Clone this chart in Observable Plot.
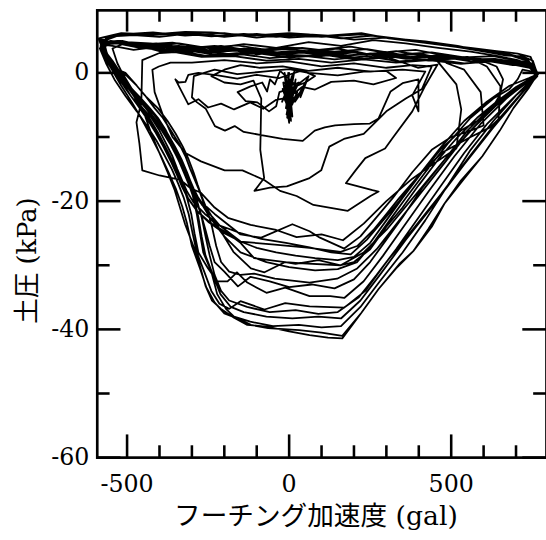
<!DOCTYPE html>
<html>
<head>
<meta charset="utf-8">
<script src="https://cdn.jsdelivr.net/npm/d3@7"></script>
<script src="https://cdn.jsdelivr.net/npm/@observablehq/plot@0.6"></script>
<style>
html, body { margin: 0; padding: 0; overflow: hidden; background: white; }
svg { display: block; }
</style>
</head>
<body>
<div id="chart"></div>
<script>
// axis texts
const xTitle = "フーチング加速度 (gal)";
const yTitle = "土圧 (kPa)";
const xTickLabels = [-500, 0, 500];
const yTickLabels = [0, -20, -40, -60];
const xMajorTicks = [-500, 0, 500];
const xMinorTicks = [-400, -300, -200, -100, 100, 200, 300, 400, 600, 700];
const yMajorTicks = [0, -20, -40, -60];
const yMinorTicks = [-10, -30, -50];

// hysteresis record: [acceleration (gal), earth pressure (kPa)], cycle by cycle
const cycle01 = [[0,0],[-5,-3],[3,-6],[-8,-1],[6,-7.5],[-12,-2],[2,-5],[-3,0],[10,-6.8],[-15,-4],[5,-1],[-6,-7],[12,-2.5],[-18,-1.5],[0,-7.8],[8,-0.5],[-10,-5.5],[15,-4],[-20,-2.5],[4,-6],[20,-1],[-2,-7],[-14,0],[9,-5],[25,-3],[-8,-6.5],[16,0.2],[-22,-4.5],[3,-2],[30,-1.5],[-4,-5],[45,-2.5],[18,-4.5],[55,-1],[35,-3.8],[60,-0.5],[22,-2],[-28,0.3],[-44,-1.8],[-59,-1],[-68,-2.9],[-83,-1.5],[-119,-2.1],[-159,-3],[-134,-4.4],[-98,-4.6],[-62,-6],[-40,-5.2],[-30,-3],[0,-2.5],[50,-1.5],[80,-0.5],[40,0.4]];
const cycle02 = [[40,0.4],[-30,-0.8],[-100,-0.3],[-160,-0.9],[-220,-0.4],[-280,0],[-311,-0.3],[-320,-1.4],[-341,-1.5],[-351,-1],[-311,-4.9],[-280,-4.1],[-250,-5.4],[-210,-4.8],[-170,-5.7],[-120,-4.6],[-80,-5.6],[-40,-4.2],[0,-3.8],[40,-2.2],[80,-2.6],[130,-1.4],[200,-1.2],[260,-1.8],[330,-0.8],[300,0.3],[230,0.2],[150,-0.4],[60,0]];
const cycle03 = [[0,0.6],[-80,0.2],[-160,-0.2],[-230,0.5],[-294,-0.5],[-300,-3.8],[-284,-4.6],[-257,-5.6],[-229,-8.3],[-198,-9],[-168,-8.3],[-140,-9.2],[-86,-9.7],[-20,-10.3],[42,-10.6],[79,-9],[110,-8.5],[142,-8.2],[200,-8],[249,-7.9],[276,-7.1],[313,-2.9],[350,-1.6],[399,-1],[399,-6],[380,-3.5],[420,0.2],[350,0.5],[250,0.2],[150,0.8],[60,0.3]];
const cycle04 = [[-20,1],[-90,0.8],[-150,1.2],[-200,0.5],[-240,-0.5],[-200,-1.5],[-150,-1.8],[-110,-1.2],[-86,-4],[-88,-9.7],[-89,-12],[-77,-16.4],[-107,-18.4],[-59,-17.9],[-7,-17.7],[63,-16.4],[99,-15.2],[124,-11.5],[169,-10.3],[230,-9.5],[300,-6],[360,-4],[410,-2.5],[440,1],[380,1.2],[300,0.8]];
const cycle05 = [[300,0.8],[200,1.5],[100,1],[0,1.8],[-100,1.5],[-200,2],[-300,1.6],[-366,1.6],[-402,1],[-422,0.5],[-415,-3],[-390,-6.5],[-360,-10],[-320,-12.5],[-272,-13.8],[-199,-15.2],[-144,-15.2],[-77,-16.7],[-28,-18.4],[23,-19.2],[75,-20.6],[181,-21.5],[251,-19.2],[276,-18.5],[257,-18.3],[175,-17.2],[205,-15.2],[235,-13.3],[296,-11.8],[317,-10.3],[380,-6],[420,-2],[458,1.3]];
const cycle06 = [[458,1.3],[397,0.8],[300,2.5],[200,2.1],[100,2.9],[0,2.4],[-100,3.1],[-200,2.6],[-300,3.4],[-400,3.1],[-453,2],[-456,-4.6],[-471,-7.7],[-462,-11],[-453,-15.2],[-400,-16],[-335,-16.7],[-304,-18],[-272,-18.7],[-230,-21],[-189,-22.6],[-119,-23.7],[-40,-24.5],[23,-25.6],[100,-25.2],[166,-26.1],[230,-23.5],[300,-20],[380,-16.5],[450,-14],[516,-11.8],[531,-5.7],[516,-1.8],[458,1.8]];
const cycle07 = [[458,1.8],[420,2.6],[330,3.4],[240,2.9],[150,3.8],[60,3.3],[-30,3.9],[-130,3.4],[-230,4.2],[-330,3.8],[-430,4.6],[-500,4.8],[-545,3.8],[-530,1.5],[-515,0],[-485,-2.5],[-460,-3.8],[-430,-5.5],[-405,-7],[-380,-9],[-360,-11],[-340,-13],[-325,-15],[-300,-18],[-270,-20.2],[-230,-22],[-190,-23.6],[-150,-25.2],[-86,-25.7],[10,-23.6],[63,-24.7],[95,-25.7],[170,-27.4],[220,-25.5],[270,-22.5],[320,-19.5],[380,-15.5],[440,-12],[500,-10],[560,-9],[600,-8.2],[591,-3],[540,0.5],[487,1.5]];
const cycle08 = [[487,1.5],[470,2.2],[380,2.9],[290,2.4],[200,3.4],[100,2.8],[0,3.4],[-100,2.9],[-200,3.8],[-300,3.3],[-400,4.1],[-480,3.6],[-545,4.2],[-575,4.4],[-560,2.2],[-525,0],[-480,-3.5],[-452,-5.5],[-425,-7],[-400,-9],[-380,-11],[-360,-13],[-345,-15],[-330,-16.8],[-315,-18.5],[-295,-20.2],[-260,-22],[-214,-23.8],[-150,-26.3],[-44,-26.8],[63,-27.3],[159,-27.9],[210,-27],[260,-24.5],[300,-22],[340,-19.5],[400,-16],[470,-12.5],[560,-10],[620,-8.5],[646,-7.2],[652,-2.1],[610,1],[550,2.5]];
const cycle09 = [[550,2.5],[480,2.2],[400,3],[300,2.5],[200,3.2],[100,2.6],[0,2.8],[-100,3.4],[-200,2.9],[-300,3.8],[-400,3.4],[-480,4.5],[-540,4.9],[-580,4.5],[-565,2.6],[-530,0.5],[-505,0],[-470,-2],[-445,-3.5],[-415,-5.5],[-390,-7],[-365,-9],[-340,-11],[-320,-13],[-305,-15],[-290,-16.8],[-280,-18],[-262,-20.5],[-225,-23.5],[-172,-27.9],[-118,-30.5],[-76,-31.1],[-12,-29.5],[20,-29.8],[90,-29.2],[159,-30],[200,-29.5],[250,-27.5],[300,-24],[350,-21],[400,-17.5],[460,-13.5],[520,-10],[580,-7],[640,-4.5],[700,-2.2],[765,-0.3]];
const cycle10 = [[765,-0.3],[740,1.8],[690,2.6],[617,3.2],[520,4.2],[420,4.9],[320,5.4],[223,6],[100,5.6],[0,6],[-100,5.5],[-200,6.2],[-321,5.8],[-420,6.3],[-518,6],[-560,5.2],[-587,5.2],[-570,3],[-548,1],[-520,-1],[-490,-3.5],[-460,-5.5],[-430,-7.5],[-400,-10],[-375,-12.5],[-352,-15],[-332,-17.2],[-312,-19.5],[-285,-21.5],[-240,-23.5],[-190,-25],[-150,-26.5],[-108,-28.9],[-12,-29.5],[42,-29.7],[159,-30],[230,-28],[300,-24.5],[390,-19],[480,-13.5],[570,-8.5],[660,-4],[720,-1.8],[762,-0.5]];
const cycle11 = [[762,-0.5],[745,1],[700,1.4],[640,2],[560,1.8],[460,2.6],[360,2.2],[260,3],[160,2.6],[60,3.4],[-40,3],[-140,3.8],[-240,3.4],[-340,4.2],[-440,4],[-520,4.8],[-566,4.6],[-578,3.5],[-555,1.8],[-525,0],[-495,-2],[-465,-3.8],[-435,-5.5],[-408,-7],[-385,-9],[-362,-11],[-345,-13],[-328,-15],[-312,-17],[-295,-18.8],[-270,-20.5],[-214,-23.8],[-150,-25],[-86,-25.9],[-10,-26.5],[63,-27.2],[130,-28],[190,-28.3],[240,-26],[290,-23],[340,-20],[400,-16],[470,-11.5],[540,-7.5],[610,-4.5],[680,-2],[740,-0.8],[768,-0.2]];
const cycle12 = [[768,-0.2],[730,1.5],[670,1.6],[590,2.2],[490,2.6],[390,3.6],[290,3.2],[190,4.1],[90,3.6],[-10,4],[-110,3.4],[-210,4.2],[-310,3.8],[-410,4.6],[-490,4.3],[-550,4.9],[-582,4.2],[-568,2.2],[-540,0],[-510,-1.5],[-480,-3],[-450,-4.5],[-420,-6.3],[-395,-8],[-370,-10],[-348,-12],[-330,-14],[-312,-16],[-295,-18],[-275,-20],[-245,-22.5],[-200,-25.5],[-150,-28],[-70,-29.5],[0,-30.3],[80,-30.8],[150,-30.6],[210,-29.5],[260,-26.5],[310,-23],[360,-19.5],[420,-15.5],[490,-11],[560,-7],[630,-4],[680,-2.5],[705,-1],[720,0.5],[750,0.2],[766,-0.4]];
const cycle13 = [[766,-0.4],[735,2.2],[680,2.9],[600,3.5],[500,4.3],[400,4.9],[300,5.5],[200,5.2],[100,5.8],[0,5.5],[-100,6.1],[-200,5.6],[-300,6.2],[-400,5.6],[-480,5.9],[-545,5.7],[-575,4.8],[-560,2.8],[-530,0.5],[-500,-0.5],[-470,-2],[-440,-3.8],[-405,-5.5],[-375,-7.5],[-350,-9.5],[-328,-11.5],[-310,-13.5],[-295,-15.5],[-282,-17.5],[-268,-19.5],[-252,-21.5],[-238,-24],[-225,-27],[-210,-29.5],[-185,-31],[-150,-31.5],[-108,-31.3],[-44,-32.1],[63,-32.7],[148,-32.1],[210,-30.5],[270,-27.5],[340,-23],[410,-18.5],[480,-14],[550,-9.5],[620,-5.8],[700,-2.8],[765,-0.3]];
const cycle14 = [[765,-0.3],[742,0.8],[700,1.2],[630,1.8],[540,1.5],[440,2.2],[340,1.8],[240,2.6],[140,2.1],[40,2.7],[-60,2.3],[-160,3],[-260,2.7],[-360,3.6],[-460,3.9],[-530,4.6],[-572,4.4],[-558,2],[-528,-0.2],[-495,-2.5],[-462,-4.8],[-432,-7],[-405,-9.3],[-382,-11.5],[-362,-13.5],[-345,-15.5],[-330,-17.3],[-315,-19.5],[-302,-22],[-292,-25],[-280,-28],[-250,-30.5],[-222,-32.5],[-190,-32.5],[-161,-31.1],[-129,-32.7],[-70,-34.3],[-12,-33.5],[63,-34.8],[127,-34.8],[170,-35.1],[230,-32.5],[290,-28.5],[360,-23.5],[430,-18.5],[510,-13],[590,-8],[670,-4],[730,-1.6],[767,-0.2]];
const cycle15 = [[767,-0.2],[745,2.5],[705,3],[640,3.4],[560,3.9],[460,4.5],[360,5.2],[260,5.8],[160,5.4],[60,6],[-40,5.6],[-140,6.1],[-240,5.7],[-340,6.2],[-440,5.8],[-520,6.1],[-565,5.4],[-584,3.8],[-565,1.5],[-537,-1.2],[-505,-3.6],[-470,-6],[-438,-8.3],[-410,-10.5],[-385,-12.8],[-362,-15],[-342,-17.3],[-325,-19.5],[-310,-22],[-298,-25],[-285,-28],[-262,-31],[-240,-34],[-215,-36],[-185,-36.8],[-150,-35.6],[-76,-36.9],[-12,-35.9],[63,-36.4],[170,-36.6],[235,-34],[300,-29.5],[380,-24.5],[470,-18.8],[560,-12.8],[650,-7],[720,-3],[766,-0.5]];
const cycle16 = [[766,-0.5],[748,1.5],[712,1.4],[660,1.8],[580,2.2],[480,2.8],[380,2.4],[280,3.1],[180,2.7],[80,3.5],[-20,3.1],[-120,3.8],[-220,3.3],[-320,4.1],[-420,3.9],[-505,4.6],[-550,5],[-578,4.6],[-560,2.3],[-532,0],[-500,-2.2],[-468,-4],[-437,-5.8],[-410,-7.5],[-385,-9.5],[-362,-11.5],[-342,-13.5],[-325,-15.5],[-308,-17.6],[-292,-19.8],[-280,-22.5],[-270,-25.5],[-258,-28.5],[-235,-31.5],[-212,-34.5],[-180,-36.5],[-140,-37.3],[-70,-38],[10,-38.3],[90,-38],[160,-38.3],[220,-35.5],[280,-31.5],[360,-26],[450,-20.3],[540,-14.3],[630,-8.5],[705,-4],[764,-0.4]];
const cycle17 = [[764,-0.4],[735,1.5],[690,1.2],[620,1.8],[530,1.4],[430,2],[330,1.6],[230,2.1],[130,1.6],[30,2.2],[-70,1.9],[-170,2.6],[-270,2.5],[-370,3.4],[-470,4],[-540,4.9],[-580,5],[-575,3.2],[-550,0.8],[-518,-2],[-485,-4.6],[-455,-7.2],[-425,-10],[-397,-12.8],[-372,-15.5],[-350,-18],[-330,-20.8],[-315,-23.5],[-300,-27],[-275,-30.5],[-255,-33.5],[-230,-35.8],[-200,-37.5],[-150,-38.5],[-118,-39.3],[-65,-39.8],[31,-40.1],[100,-40.5],[164,-41],[223,-37.4],[276,-33.7],[340,-29.8],[383,-27.8],[440,-24],[479,-20.4],[540,-16.5],[596,-13],[650,-9],[692,-5.5],[740,-2.3],[766,-0.2]];
const cycle18 = [[766,-0.2],[752,1.9],[720,2.6],[671,2.7],[617,3.2],[520,4],[420,4.7],[308,5.4],[223,6.2],[120,5.8],[0,6.2],[-120,5.8],[-240,6.3],[-321,6.4],[-420,6],[-518,6.2],[-545,5.9],[-587,5.4],[-577,4],[-545,1.9],[-510,-0.8],[-492,-2.3],[-470,-4.5],[-449,-6.1],[-425,-9.5],[-396,-13],[-375,-15.5],[-353,-18.3],[-321,-23.6],[-285,-28.4],[-258,-33.2],[-238,-35.5],[-210,-36.8],[-170,-38.2],[-129,-39.3],[-65,-39.6],[0,-40.3],[63,-40.9],[120,-41.3],[164,-41.4],[223,-37.4],[276,-33.7],[330,-30.5],[383,-27.8],[430,-24.3],[479,-20.4],[530,-16.8],[596,-13],[650,-9],[692,-5.5],[735,-2.6],[765,-0.3]];
const cycle19 = [[765,-0.3],[740,1.6],[695,2],[630,2.6],[540,2.4],[440,3.2],[340,2.9],[240,3.7],[140,3.3],[40,3.9],[-60,3.5],[-160,4.3],[-260,3.9],[-360,4.7],[-460,4.4],[-530,5],[-570,4.8],[-567,2.6],[-540,0.3],[-510,-1.5],[-480,-3.2],[-450,-5],[-420,-7],[-393,-9],[-368,-11],[-347,-13],[-328,-15],[-312,-17],[-297,-19.2],[-285,-22],[-275,-25],[-265,-28],[-240,-31],[-222,-34.5],[-195,-36.8],[-170,-38],[-120,-38.8],[-50,-39.5],[30,-39.3],[100,-39.7],[160,-39.5],[220,-36.5],[280,-32.5],[350,-28],[420,-23],[490,-17.5],[560,-12],[630,-7.5],[700,-3.5],[745,-1.5],[766,-0.4]];
const cycle20 = [[766,-0.4],[745,1.2],[705,2],[645,2.6],[560,3.3],[460,3.9],[360,4.6],[260,5.1],[160,4.2],[60,4.8],[-40,3.9],[-140,4.5],[-240,3.8],[-340,4.6],[-440,4.1],[-515,5],[-560,4.6],[-578,3.2],[-552,1],[-522,-0.5],[-490,-2.2],[-458,-4],[-428,-5.8],[-400,-7.5],[-375,-9.5],[-352,-11.5],[-332,-13.5],[-315,-15.5],[-300,-17.5],[-285,-19.8],[-270,-22.5],[-258,-25.5],[-245,-28.5],[-230,-31.5],[-210,-34],[-185,-35.5],[-130,-36.5],[-60,-37.3],[20,-37],[90,-37.6],[150,-37.3],[215,-35],[270,-31.5],[330,-27.5],[400,-22.5],[470,-17.5],[540,-12.5],[610,-8],[680,-4.5],[730,-2],[764,-0.5]];
const cycle21 = [[764,-0.5],[740,1.2],[700,1.7],[635,2.2],[550,2.1],[450,2.7],[350,2.4],[250,3],[150,2.6],[50,3.2],[-50,2.8],[-150,3.5],[-250,3.2],[-350,4],[-450,4.3],[-525,5],[-568,4.2],[-555,1.6],[-527,-0.6],[-495,-2.5],[-462,-4.3],[-432,-6],[-405,-7.8],[-380,-9.8],[-357,-11.8],[-337,-13.8],[-320,-15.8],[-304,-17.8],[-288,-19.8],[-272,-22],[-258,-24.5],[-245,-27],[-230,-29.5],[-200,-31],[-158,-33.3],[-119,-31.8],[-60,-32.5],[0,-33.4],[70,-33],[140,-33.6],[200,-32.2],[250,-29.5],[300,-26],[350,-22.5],[410,-18],[480,-13.5],[550,-9],[620,-5.5],[690,-2.8],[762,-0.6]];
const cycle22 = [[762,-0.6],[738,1.3],[690,1.5],[620,1.9],[530,2.3],[430,1.9],[330,2.5],[230,2.2],[130,2.9],[30,2.5],[-70,3.2],[-170,2.8],[-270,3.5],[-370,3.2],[-470,4.2],[-540,4.9],[-575,4.1],[-560,1.9],[-532,-0.4],[-500,-2.8],[-468,-5],[-438,-7.2],[-412,-9.3],[-388,-11.5],[-366,-13.7],[-347,-15.8],[-330,-17.8],[-312,-19.6],[-285,-21.5],[-250,-23.2],[-200,-25],[-150,-26.3],[-100,-27.3],[-40,-28],[20,-28.5],[80,-28.9],[150,-29.2],[200,-28.7],[250,-26.5],[300,-23],[350,-19.5],[410,-15.5],[470,-11.8],[530,-9],[580,-7.5],[620,-6],[650,-3.5],[660,-1],[640,1],[600,1.8]];

const record = [cycle01, cycle02, cycle03, cycle04, cycle05, cycle06, cycle07, cycle08, cycle09, cycle10, cycle11,
  cycle12, cycle13, cycle14, cycle15, cycle16, cycle17, cycle18, cycle19, cycle20, cycle21, cycle22].flat();

const ink = "black";
const serif = "DejaVu Serif, Noto Sans CJK JP, serif";

const chart = Plot.plot({
  width: 553,
  height: 540,
  marginLeft: 98,
  marginRight: 0,
  marginTop: 10,
  marginBottom: 77,
  x: {domain: [-592, 794]},
  y: {domain: [-60, 9.75]},
  style: {fontFamily: serif, fontSize: "24px", background: "white", color: ink, overflow: "visible"},
  marks: [
    Plot.line(record, {x: d => d[0], y: d => d[1], stroke: ink, strokeWidth: 1.8}),
    Plot.frame({stroke: ink, strokeWidth: 2.7}),
    Plot.tickX(xMajorTicks, {x: d => d, insetTop: 430, stroke: ink, strokeWidth: 2.6}),
    Plot.tickX(xMajorTicks, {x: d => d, insetBottom: 431, stroke: ink, strokeWidth: 2.6}),
    Plot.tickX(xMinorTicks, {x: d => d, insetTop: 441, stroke: ink, strokeWidth: 2.6}),
    Plot.tickX(xMinorTicks, {x: d => d, insetBottom: 441, stroke: ink, strokeWidth: 2.6}),
    Plot.tickY(yMajorTicks, {y: d => d, insetRight: 431, stroke: ink, strokeWidth: 2.6}),
    Plot.tickY(yMajorTicks, {y: d => d, insetLeft: 431, stroke: ink, strokeWidth: 2.6}),
    Plot.tickY(yMinorTicks, {y: d => d, insetRight: 442, stroke: ink, strokeWidth: 2.6}),
    Plot.tickY(yMinorTicks, {y: d => d, insetLeft: 442, stroke: ink, strokeWidth: 2.6}),
    Plot.axisX(xTickLabels, {tickSize: 0, tickPadding: 18, tickFormat: d => String(d), label: null, fontSize: 24, fontFamily: "DejaVu Serif"}),
    Plot.axisY(yTickLabels, {tickSize: 0, tickPadding: 8, tickFormat: d => String(d), label: null, fontSize: 24, fontFamily: "DejaVu Serif"}),
    Plot.text([xTitle], {text: d => d, frameAnchor: "bottom", lineAnchor: "bottom", textAnchor: "middle", dx: -6, dy: 68, fontSize: 27, fontFamily: serif, fill: ink}),
    Plot.text([yTitle], {text: d => d, frameAnchor: "left", lineAnchor: "middle", textAnchor: "middle", rotate: -90, dx: -70, dy: 27, fontSize: 26, fontFamily: serif, fill: ink})
  ]
});

document.getElementById("chart").appendChild(chart);
</script>
</body>
</html>
